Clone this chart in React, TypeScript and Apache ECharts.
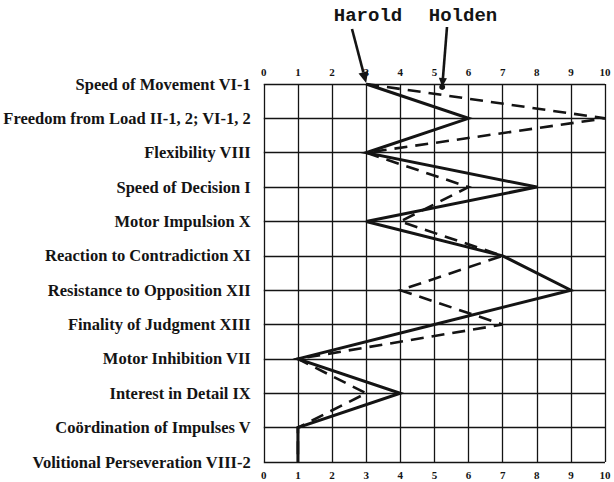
import React, { useEffect, useRef } from "react";
import * as echarts from "echarts";

const categories = [
  "Speed of Movement VI-1",
  "Freedom from Load II-1, 2; VI-1, 2",
  "Flexibility VIII",
  "Speed of Decision I",
  "Motor Impulsion X",
  "Reaction to Contradiction XI",
  "Resistance to Opposition XII",
  "Finality of Judgment XIII",
  "Motor Inhibition VII",
  "Interest in Detail IX",
  "Coördination of Impulses V",
  "Volitional Perseveration VIII-2",
];
const harold = [3, 6, 3, 8, 3, 7, 9, 5, 1, 4, 1, 1];
const holden = [3, 10, 3, 6, 4, 7, 4, 7, 1, 3, 1, 1];
const xMin = 0;
const xMax = 10;
const xInterval = 1;
const names = ["Harold", "Holden"];

const INK = "#141414";

function arrow(x1: number, y1: number, x2: number, y2: number, head: number) {
  const ang = Math.atan2(y2 - y1, x2 - x1);
  const w = head * 0.45;
  const bx = x2 - head * Math.cos(ang);
  const by = y2 - head * Math.sin(ang);
  const px = -Math.sin(ang) * w;
  const py = Math.cos(ang) * w;
  return [
    {
      type: "line",
      shape: { x1, y1, x2: bx, y2: by },
      style: { stroke: INK, lineWidth: 2.6 },
      silent: true,
    },
    {
      type: "polygon",
      shape: {
        points: [
          [x2, y2],
          [bx + px, by + py],
          [bx - px, by - py],
        ],
      },
      style: { fill: INK },
      silent: true,
    },
  ];
}

export default function App() {
  const ref = useRef<HTMLDivElement>(null);
  useEffect(() => {
    document.body.style.margin = "0";
    if (!ref.current) return;
    const chart = echarts.init(ref.current, null, { renderer: "svg" });
    const tickLabel = {
      fontFamily: "Liberation Serif",
      fontWeight: "bold" as const,
      fontSize: 11,
      color: INK,
    };
    const makeX = (position: "top" | "bottom") => ({
      type: "value" as const,
      position,
      min: xMin,
      max: xMax,
      interval: xInterval,
      axisLine: { show: false },
      axisTick: { show: false },
      axisLabel: { ...tickLabel, margin: position === "top" ? 7 : 7 },
      splitLine: position === "top"
        ? { show: true, lineStyle: { color: INK, width: 1.3 } }
        : { show: false },
    });
    chart.setOption({
      animation: false,
      backgroundColor: "#ffffff",
      grid: { left: 263, right: 9, top: 84, bottom: 20, containLabel: false },
      xAxis: [makeX("top"), makeX("bottom")],
      yAxis: {
        type: "category",
        data: categories,
        inverse: true,
        boundaryGap: false,
        axisLine: { show: false },
        axisTick: { show: false },
        axisLabel: {
          fontFamily: "Liberation Serif",
          fontWeight: "bold",
          fontSize: 16.5,
          color: INK,
          margin: 13,
          interval: 0,
        },
        splitLine: { show: true, lineStyle: { color: INK, width: 1.3 } },
      },
      series: [
        {
          name: names[0],
          type: "line",
          xAxisIndex: 0,
          yAxisIndex: 0,
          data: harold.map((v, i) => [v, categories[i]]),
          showSymbol: false,
          symbol: "none",
          lineStyle: { color: INK, width: 3, type: "solid", join: "miter" },
          z: 3,
        },
        {
          name: names[1],
          type: "line",
          xAxisIndex: 0,
          yAxisIndex: 0,
          data: holden.map((v, i) => [v, categories[i]]),
          showSymbol: false,
          symbol: "none",
          lineStyle: { color: INK, width: 2.6, type: [13, 8], join: "miter" },
          z: 4,
        },
      ],
    });
    const hp = chart.convertToPixel({ xAxisIndex: 0, yAxisIndex: 0 }, [harold[0], categories[0]]) as number[];
    const hx = chart.convertToPixel({ xAxisIndex: 0 }, 5.2) as number;
    const gy = chart.convertToPixel({ yAxisIndex: 0 }, categories[0]) as number;
    chart.setOption({
      graphic: [
        {
          type: "text",
          x: 368,
          y: 16,
          style: {
            text: names[0],
            font: "bold 19px 'Liberation Mono'",
            fill: INK,
            align: "center",
            verticalAlign: "middle",
          },
        },
        {
          type: "text",
          x: 463,
          y: 16,
          style: {
            text: names[1],
            font: "bold 19px 'Liberation Mono'",
            fill: INK,
            align: "center",
            verticalAlign: "middle",
          },
        },
        ...arrow(352, 29, hp[0], hp[1] - 1, 11),
        ...arrow(447, 27, hx + 1, gy + 3, 9),
        {
          type: "circle",
          shape: { cx: hx + 1, cy: gy + 3, r: 3 },
          style: { fill: INK },
        },
      ],
    });
    return () => chart.dispose();
  }, []);
  return <div ref={ref} style={{ width: 614, height: 482 }} />;
}
